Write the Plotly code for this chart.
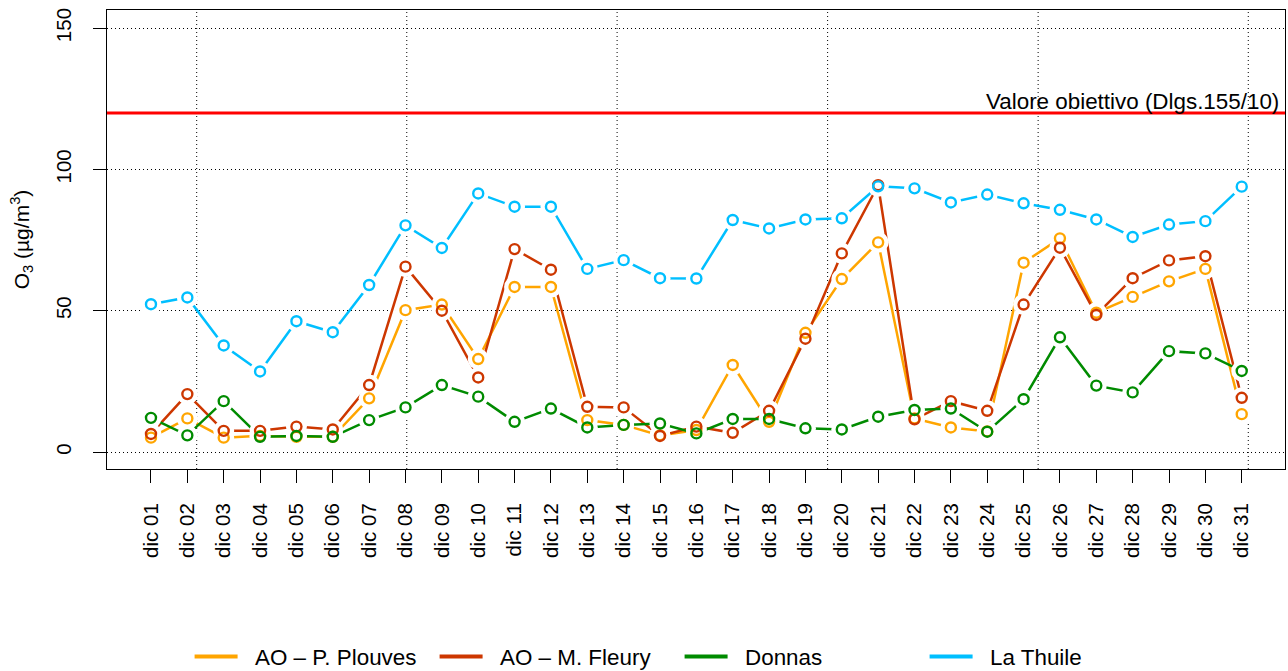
import plotly.graph_objects as go

days = [f"dic {d:02d}" for d in range(1, 32)]
day_num = list(range(1, 32))

plouves = [5.1, 11.9, 5.1, 5.7, 5.4, 5.4, 19.0, 50.2, 52.2, 32.9,
           58.4, 58.4, 11.3, 9.6, 5.9, 7.8, 30.8, 10.7, 42.2, 61.2,
           74.2, 11.9, 8.7, 7.3, 67.0, 75.6, 49.3, 54.9, 60.4, 64.8, 13.4]
fleury = [6.4, 20.5, 7.5, 7.5, 9.0, 8.0, 23.7, 65.6, 50.0, 26.4,
          71.8, 64.5, 16.0, 15.8, 5.7, 9.0, 6.8, 14.6, 40.1, 70.3,
          94.4, 11.6, 18.0, 14.6, 52.2, 72.3, 48.5, 61.5, 67.8, 69.3, 19.2]
donnas = [12.1, 5.9, 18.0, 5.4, 5.7, 5.4, 11.3, 15.8, 23.7, 19.6,
          10.7, 15.4, 8.7, 9.6, 10.1, 6.6, 11.7, 11.7, 8.4, 8.0,
          12.5, 14.9, 15.4, 7.2, 18.7, 40.6, 23.5, 21.1, 35.7, 34.9, 28.7]
thuile = [52.3, 54.7, 37.7, 28.5, 46.3, 42.4, 59.1, 80.2, 72.2, 91.5,
          86.8, 86.8, 64.8, 67.9, 61.5, 61.4, 82.1, 79.1, 82.3, 82.7,
          94.0, 93.3, 88.3, 91.1, 88.0, 85.7, 82.3, 76.1, 80.5, 81.7, 93.9]

series_names = ["AO \u2013 P. Plouves", "AO \u2013 M. Fleury", "Donnas", "La Thuile"]
series_values = [plouves, fleury, donnas, thuile]
series_colors = ["#FFA500", "#CD3700", "#008B00", "#00BFFF"]

target_value = 120
target_label = "Valore obiettivo (Dlgs.155/10)"
y_ticks = [0, 50, 100, 150]
vgrid_x = [2.257, 8.035, 13.82, 19.61, 25.40, 31.18]

FONT = "Liberation Sans, Arial, sans-serif"
NBSP = "\u00a0\u00a0"

fig = go.Figure()

# lines
for name, vals, col in zip(series_names, series_values, series_colors):
    fig.add_trace(go.Scatter(x=day_num, y=vals, mode="lines",
                             line=dict(color=col, width=2.5),
                             showlegend=False, hoverinfo="skip"))
# white gaps around points (type="b" look)
for vals in series_values:
    fig.add_trace(go.Scatter(x=day_num, y=vals, mode="markers",
                             marker=dict(symbol="circle", size=21, color="white",
                                         line=dict(width=0)),
                             showlegend=False, hoverinfo="skip"))
# open circles
for name, vals, col in zip(series_names, series_values, series_colors):
    fig.add_trace(go.Scatter(x=day_num, y=vals, mode="markers", name=name,
                             marker=dict(symbol="circle-open", size=10,
                                         color=col, line=dict(color=col, width=2.4)),
                             showlegend=False))
# legend entries
for name, col in zip(series_names, series_colors):
    fig.add_trace(go.Scatter(x=[None], y=[None], mode="lines", name=NBSP + name,
                             line=dict(color=col, width=4), showlegend=True))

shapes = []
for gx in vgrid_x:
    shapes.append(dict(type="line", xref="x", yref="paper", x0=gx, x1=gx, y0=0, y1=1,
                       line=dict(color="black", width=1, dash="1px,3px"), layer="below"))
shapes.append(dict(type="line", xref="paper", yref="y", x0=0, x1=1,
                   y0=target_value, y1=target_value,
                   line=dict(color="#FF0000", width=3), layer="above"))

fig.update_layout(
    width=1288, height=671,
    margin=dict(l=107, r=3, t=10, b=202, autoexpand=False),
    paper_bgcolor="white", plot_bgcolor="white",
    font=dict(family=FONT, size=21, color="black"),
    shapes=shapes,
    annotations=[dict(xref="paper", yref="y", x=0.997, y=target_value,
                      xanchor="right", yanchor="bottom", showarrow=False,
                      text=target_label, font=dict(size=22.4, color="black"),
                      yshift=-3)],
    legend=dict(orientation="h", xref="container", yref="container",
                x=0.1472, y=1 - 657 / 671, xanchor="left", yanchor="middle",
                entrywidth=187, entrywidthmode="pixels",
                font=dict(size=22.4), itemwidth=43, bgcolor="rgba(0,0,0,0)"),
    xaxis=dict(range=[-0.21, 32.19], tickmode="array", tickvals=day_num,
               ticktext=days, tickangle=-90, ticks="outside", ticklen=13,
               tickcolor="black", showgrid=False, zeroline=False,
               showline=True, mirror=True, linecolor="black", linewidth=1,
               ticklabelstandoff=12, tickfont=dict(size=20.5)),
    yaxis=dict(range=[-6.0, 156.4], tickmode="array", tickvals=y_ticks,
               tickangle=-90, ticks="outside", ticklen=13, tickcolor="black",
               showgrid=True, gridcolor="black", gridwidth=1, griddash="1px,3px",
               zeroline=False, showline=True, mirror=True, linecolor="black",
               linewidth=1, ticklabelstandoff=14, tickfont=dict(size=20.5),
               title=dict(text="O<sub>3</sub> (\u00b5g/m<sup>3</sup>)",
                          font=dict(size=21), standoff=16)),
)

fig.write_html("out.html", config={"displayModeBar": False},
               post_script="document.body.style.margin='0';document.body.style.padding='0';")
